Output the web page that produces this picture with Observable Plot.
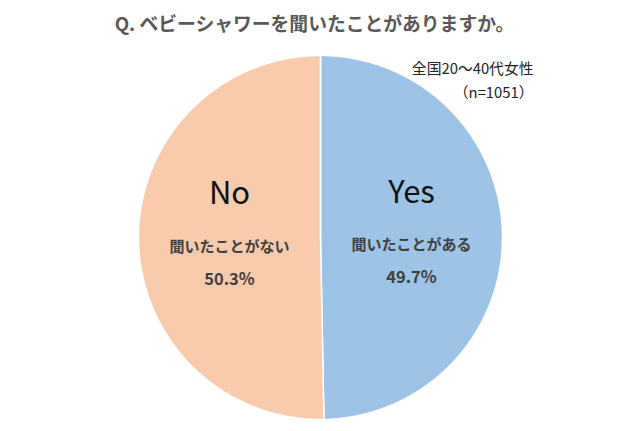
<!DOCTYPE html>
<html>
<head>
<meta charset="utf-8">
<script src="https://cdn.jsdelivr.net/npm/d3@7"></script>
<script src="https://cdn.jsdelivr.net/npm/@observablehq/plot@0.6"></script>
<style>
  html, body { margin: 0; padding: 0; background: #fff; }
</style>
</head>
<body>
<div id="chart"></div>
<script>
const categories = ["Yes", "No"];
const subLabels = ["聞いたことがある", "聞いたことがない"];
const percents = [49.7, 50.3];
const sliceColors = ["#9DC3E6", "#F8CBAD"];
const titleText = "Q. ベビーシャワーを聞いたことがありますか。";
const noteLines = ["全国20～40代女性", "（n=1051）"];

const rows = categories.map((c, i) => ({key: c, sub: subLabels[i], value: percents[i]}));
const arcs = d3.pie().sort(null).value(d => d.value)(rows);

// slice outlines from pie angles (clockwise from 12 o'clock)
const slices = arcs.map(a => {
  const pts = [{x: 0, y: 0}];
  const n = Math.max(2, Math.ceil((a.endAngle - a.startAngle) / (Math.PI / 360)));
  for (let k = 0; k <= n; k++) {
    const t = a.startAngle + (a.endAngle - a.startAngle) * k / n;
    pts.push({x: Math.sin(t), y: Math.cos(t)});
  }
  return {key: a.data.key, pts};
});

const labels = arcs.map(a => {
  const m = (a.startAngle + a.endAngle) / 2;
  return {x: 0.5 * Math.sin(m), y: 0.5 * Math.cos(m), key: a.data.key, sub: a.data.sub, pct: a.data.value.toFixed(1) + "%"};
});

const font = "'Noto Sans CJK JP', 'Noto Sans', sans-serif";
const colorOf = Object.fromEntries(categories.map((c, i) => [c, sliceColors[i]]));

const chart = Plot.plot({
  width: 640,
  height: 431,
  margin: 0,
  x: {domain: [-1, 1], range: [138, 502], axis: null},
  y: {domain: [-1, 1], range: [419, 55], axis: null},
  style: {background: "#fff", fontFamily: font},
  marks: [
    ...slices.map(s => Plot.line(s.pts, {
      x: "x", y: "y", fill: colorOf[s.key], stroke: "white", strokeWidth: 1.5, curve: "linear-closed"
    })),
    Plot.text(labels, {x: "x", y: "y", text: "key", dy: -44, fontSize: 31, fill: "#111", lineAnchor: "middle", fontFamily: font}),
    Plot.text(labels, {x: "x", y: "y", text: "sub", dy: 9, fontSize: 15, fontWeight: "bold", fill: "#404040", lineAnchor: "middle", fontFamily: font}),
    Plot.text(labels, {x: "x", y: "y", text: "pct", dy: 41, fontSize: 16.5, fontWeight: "bold", fill: "#404040", lineAnchor: "middle", fontFamily: font}),
    Plot.text([titleText], {frameAnchor: "top", dx: -6, dy: 24, fontSize: 18.8, fontWeight: "bold", fill: "#595959", lineAnchor: "middle", fontFamily: font}),
    Plot.text([noteLines[0]], {frameAnchor: "top-right", dx: -107, dy: 69, fontSize: 14.8, fill: "#222", textAnchor: "end", lineAnchor: "middle", fontFamily: font}),
    Plot.text([noteLines[1]], {frameAnchor: "top-right", dx: -107, dy: 93, fontSize: 14.8, fill: "#222", textAnchor: "end", lineAnchor: "middle", fontFamily: font})
  ]
});
document.getElementById("chart").appendChild(chart);
</script>
</body>
</html>
